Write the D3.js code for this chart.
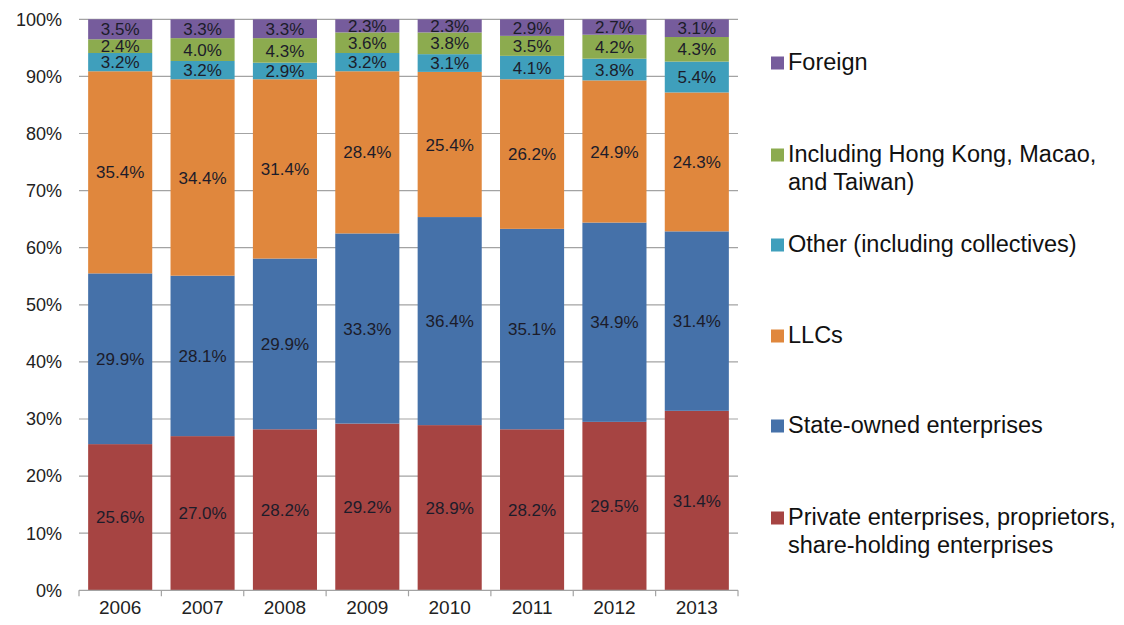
<!DOCTYPE html>
<html>
<head>
<meta charset="utf-8">
<script src="https://cdn.jsdelivr.net/npm/d3@7"></script>
<style>
  html, body { margin: 0; padding: 0; background: #fff; }
  svg { display: block; font-family: "Liberation Sans", Arial, sans-serif; }
</style>
</head>
<body>
<svg id="chart" width="1124" height="625"></svg>
<script>
// Share of ownership types by year (%)
const years = ["2006", "2007", "2008", "2009", "2010", "2011", "2012", "2013"];
const privateEnt = [25.6, 27.0, 28.2, 29.2, 28.9, 28.2, 29.5, 31.4];
const stateOwned = [29.9, 28.1, 29.9, 33.3, 36.4, 35.1, 34.9, 31.4];
const llcs       = [35.4, 34.4, 31.4, 28.4, 25.4, 26.2, 24.9, 24.3];
const other      = [3.2, 3.2, 2.9, 3.2, 3.1, 4.1, 3.8, 5.4];
const hkMacaoTw  = [2.4, 4.0, 4.3, 3.6, 3.8, 3.5, 4.2, 4.3];
const foreign    = [3.5, 3.3, 3.3, 2.3, 2.3, 2.9, 2.7, 3.1];
const yTickLabels = ["0%", "10%", "20%", "30%", "40%", "50%", "60%", "70%", "80%", "90%", "100%"];

// stacking order bottom -> top
const series = [
  { key: "private", name: ["Private enterprises, proprietors,", "share-holding enterprises"], values: privateEnt, color: "#A64442" },
  { key: "state",   name: ["State-owned enterprises"], values: stateOwned, color: "#4571A9" },
  { key: "llc",     name: ["LLCs"], values: llcs, color: "#E0873D" },
  { key: "other",   name: ["Other (including collectives)"], values: other, color: "#3F9FBC" },
  { key: "hk",      name: ["Including Hong Kong, Macao,", "and Taiwan)"], values: hkMacaoTw, color: "#8CAB4F" },
  { key: "foreign", name: ["Foreign"], values: foreign, color: "#765C9C" }
];

const rows = years.map((y, i) => {
  const r = { year: y };
  series.forEach(s => { r[s.key] = s.values[i]; });
  return r;
});

const svg = d3.select("#chart");
const plot = { left: 79, right: 738, top: 19.3, bottom: 590.3 };

const x = d3.scaleBand().domain(years).range([plot.left, plot.right])
  .paddingInner(0.222).paddingOuter(0.111);
const y = d3.scaleLinear().domain([0, 1]).range([plot.bottom, plot.top]);

const stack = d3.stack().keys(series.map(s => s.key)).offset(d3.stackOffsetExpand);
const stacked = stack(rows);

// gridlines
const grid = svg.append("g");
grid.selectAll("line").data(d3.range(1, 11).map(d => d / 10)).join("line")
  .attr("x1", plot.left).attr("x2", plot.right)
  .attr("y1", d => y(d)).attr("y2", d => y(d))
  .attr("stroke", "#A3A3A3").attr("stroke-width", 1.2);

// y tick labels
svg.append("g").selectAll("text").data(yTickLabels).join("text")
  .attr("x", 62).attr("y", (d, i) => y(i / 10))
  .attr("dy", "0.35em").attr("text-anchor", "end")
  .attr("font-size", 18).attr("fill", "#222")
  .text(d => d);

// bars
const layers = svg.append("g").selectAll("g").data(stacked).join("g")
  .attr("fill", (d, i) => series[i].color);
layers.selectAll("rect").data(d => d).join("rect")
  .attr("x", d => x(d.data.year))
  .attr("width", x.bandwidth())
  .attr("y", d => y(d[1]))
  .attr("height", d => y(d[0]) - y(d[1]));

// value labels
const labels = svg.append("g");
stacked.forEach((layer, li) => {
  labels.selectAll(null).data(layer).join("text")
    .attr("x", d => x(d.data.year) + x.bandwidth() / 2)
    .attr("y", d => y((d[0] + d[1]) / 2))
    .attr("dy", "0.36em").attr("text-anchor", "middle")
    .attr("font-size", 17).attr("fill", "#1c1c2a")
    .text(d => d.data[series[li].key].toFixed(1) + "%");
});

// x axis
const xAxis = svg.append("g").attr("transform", `translate(0,${plot.bottom})`)
  .call(d3.axisBottom(x).tickSize(0).tickPadding(10));
xAxis.select(".domain").attr("stroke", "#A3A3A3").attr("stroke-width", 1.2)
  .attr("d", `M${plot.left},0H${plot.right}`);
xAxis.selectAll("text").attr("font-size", 19).attr("fill", "#222")
  .attr("font-family", "Liberation Sans, Arial, sans-serif");
const boundaries = years.map(yr => x(yr) - x.step() * x.paddingInner() / 2).concat([plot.right]);
boundaries[0] = plot.left;
xAxis.selectAll("line.bound").data(boundaries).join("line").attr("class", "bound")
  .attr("x1", d => d).attr("x2", d => d).attr("y1", 0).attr("y2", 6)
  .attr("stroke", "#A3A3A3").attr("stroke-width", 1.2);

// legend (top to bottom: reverse of stacking)
const legendRows = series.slice().reverse();
const legendBaselines = [70, 162, 252, 343, 433, 525];
const legend = svg.append("g");
legendRows.forEach((s, i) => {
  const base = legendBaselines[i];
  legend.append("rect").attr("x", 771).attr("y", base - 13.5)
    .attr("width", 13).attr("height", 13).attr("fill", s.color);
  s.name.forEach((line, j) => {
    legend.append("text").attr("x", 788).attr("y", base + j * 28)
      .attr("font-size", 23.5).attr("fill", "#111").text(line);
  });
});
</script>
</body>
</html>
